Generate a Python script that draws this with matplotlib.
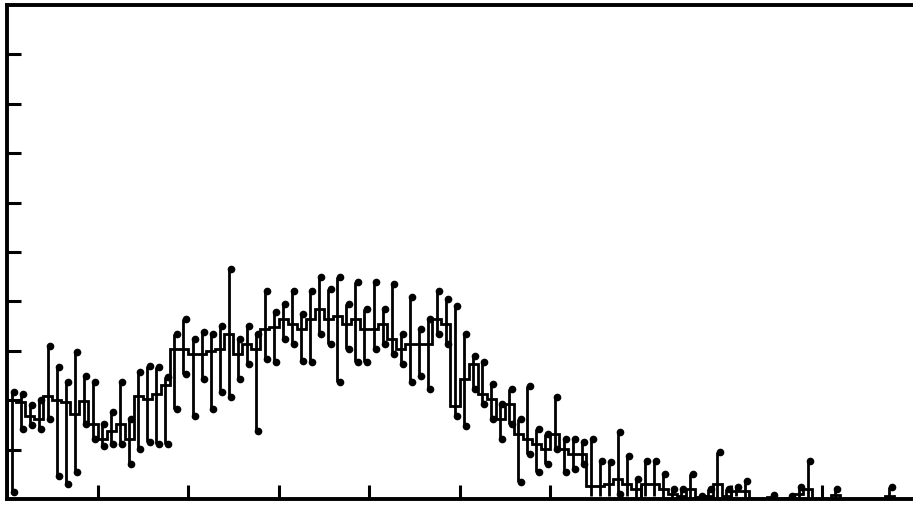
import numpy as np
import matplotlib
matplotlib.use('Agg')
import matplotlib.pyplot as plt

# bin contents (100 equal bins, y axis 0..10)
counts = [2.00, 1.96, 1.68, 1.62, 2.08, 2.00, 1.96, 1.72, 1.98, 1.52,
          1.21, 1.38, 1.52, 1.21, 2.08, 2.02, 2.13, 2.31, 3.04, 3.04,
          2.94, 2.94, 3.00, 3.04, 3.34, 2.94, 3.14, 3.04, 3.44, 3.48,
          3.64, 3.54, 3.44, 3.64, 3.85, 3.64, 3.70, 3.54, 3.64, 3.44,
          3.44, 3.54, 3.24, 3.04, 3.14, 3.14, 3.14, 3.64, 3.54, 1.88,
          2.43, 2.73, 2.13, 2.02, 1.62, 1.92, 1.32, 1.21, 1.11, 1.01,
          1.32, 1.01, 0.91, 0.91, 0.26, 0.26, 0.30, 0.40, 0.30, 0.20,
          0.30, 0.30, 0.20, 0.10, 0.06, 0.20, 0.04, 0.06, 0.30, 0.06,
          0.16, 0.16, 0.00, 0.00, 0.04, 0.00, 0.02, 0.10, 0.20, 0.00,
          0.00, 0.08, 0.00, 0.00, 0.00, 0.00, 0.00, 0.06, 0.00, 0.00]

# upper end of each error bar
err_hi = [2.17, 2.12, 1.90, 2.00, 3.10, 2.67, 2.37, 2.98, 2.49, 2.37,
          1.52, 1.76, 2.37, 1.62, 2.57, 2.69, 2.67, 2.47, 3.34, 3.64,
          3.24, 3.38, 3.34, 3.50, 4.66, 3.24, 3.50, 3.34, 4.21, 3.79,
          3.95, 4.21, 3.75, 4.21, 4.49, 4.25, 4.49, 3.95, 4.39, 3.85,
          4.39, 3.85, 4.35, 3.34, 4.09, 3.44, 3.64, 4.21, 4.05, 3.91,
          3.34, 2.89, 2.77, 2.33, 1.92, 2.23, 1.62, 2.29, 1.42, 1.32,
          2.06, 1.21, 1.21, 1.15, 1.21, 0.77, 0.75, 1.36, 0.87, 0.40,
          0.77, 0.77, 0.51, 0.20, 0.20, 0.51, 0.06, 0.20, 0.95, 0.20,
          0.24, 0.36, 0.00, 0.00, 0.08, 0.00, 0.06, 0.24, 0.77, 0.00,
          0.00, 0.20, 0.00, 0.00, 0.00, 0.00, 0.00, 0.24, 0.00, 0.00]

# lower end of each error bar
err_lo = [0.14, 1.42, 1.50, 1.42, 1.62, 0.47, 0.30, 0.55, 1.52, 1.21,
          1.07, 1.11, 1.11, 0.71, 1.01, 1.15, 1.11, 1.11, 1.82, 2.53,
          1.68, 2.43, 1.82, 2.17, 2.06, 2.43, 2.73, 1.38, 2.83, 2.77,
          3.24, 3.14, 2.79, 2.77, 3.34, 3.14, 2.37, 3.04, 2.77, 2.77,
          3.04, 3.14, 2.94, 2.73, 2.37, 2.49, 2.23, 3.34, 3.14, 1.68,
          1.48, 2.23, 1.92, 1.62, 1.21, 1.52, 0.34, 0.91, 0.55, 0.71,
          1.01, 0.55, 0.61, 0.71, 0.06, 0.06, 0.06, 0.10, 0.06, 0.04,
          0.06, 0.06, 0.04, 0.00, 0.00, 0.02, 0.00, 0.00, 0.04, 0.00,
          0.06, 0.04, 0.00, 0.00, 0.00, 0.00, 0.00, 0.02, 0.04, 0.00,
          0.00, 0.00, 0.00, 0.00, 0.00, 0.00, 0.00, 0.00, 0.00, 0.00]

counts = np.array(counts)
err_hi = np.array(err_hi)
err_lo = np.array(err_lo)
edges = np.arange(len(counts) + 1)
centers = edges[:-1] + 0.5

fig = plt.figure(figsize=(9.13, 5.06), dpi=100)
ax = fig.add_axes([7 / 913, 6 / 506, 905 / 913, 494 / 506])

# histogram outline
ax.stairs(counts, edges, color='black', linewidth=2.0)

# error bars with round ends, only where there is something to show
show = err_hi > err_lo
ax.vlines(centers[show], err_lo[show], err_hi[show], color='black', linewidth=2.0)
ax.plot(centers[show] + 0.25, err_hi[show], 'o', color='black', markersize=4.5)
low = show & (err_lo > 0.08)
ax.plot(centers[low] + 0.25, err_lo[low], 'o', color='black', markersize=4.5)

ax.set_xlim(0, 100)
ax.set_ylim(0, 10)
ax.set_xticks(np.arange(10, 100, 10))
ax.set_yticks(np.arange(1, 10, 1))
ax.tick_params(direction='in', length=10, width=2.2, labelbottom=False, labelleft=False)
ax.spines['right'].set_visible(False)
for side in ['left', 'bottom', 'top']:
    ax.spines[side].set_linewidth(2.8)

fig.savefig('out.png', dpi=100)
